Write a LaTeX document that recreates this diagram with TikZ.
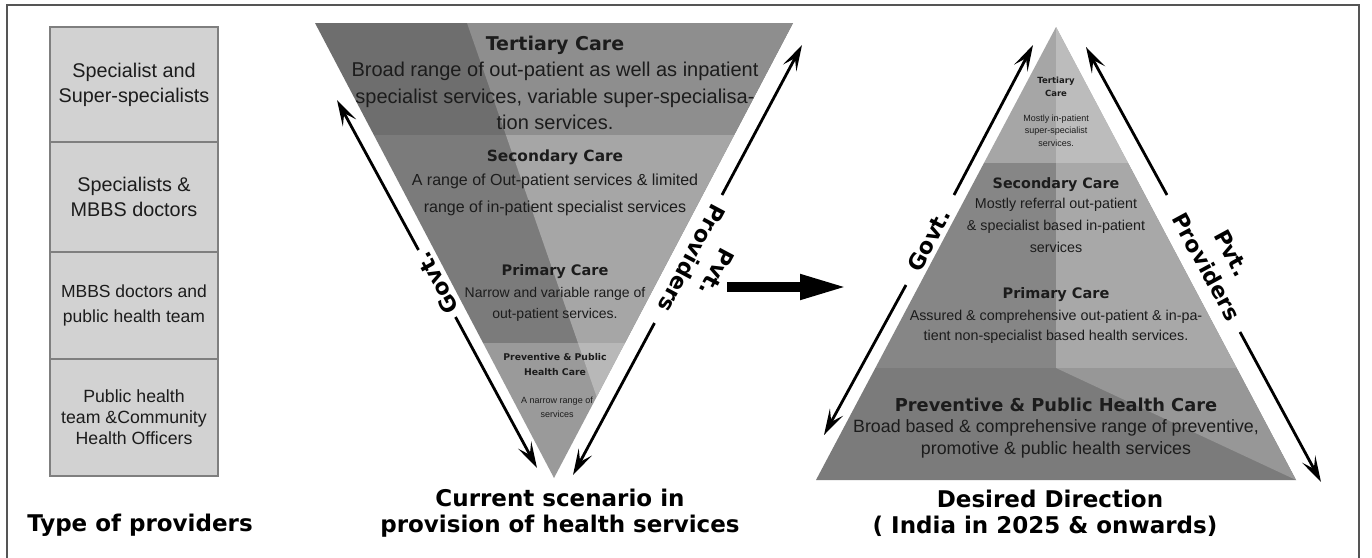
\documentclass[tikz,border=0pt]{standalone}
\usepackage{fontspec}
\setmainfont{Liberation Sans}
\newfontfamily\hdfont{DejaVu Sans}
\usetikzlibrary{arrows.meta}
\newcommand\myfs[2]{\fontsize{#1}{#2}\selectfont}
\definecolor{framec}{HTML}{555555}
\definecolor{boxfill}{HTML}{D2D2D2}
\definecolor{boxline}{HTML}{7F7F7F}
\definecolor{txt}{HTML}{1C1C1C}
\definecolor{iTL}{HTML}{6E6E6E}
\definecolor{iTR}{HTML}{8E8E8E}
\definecolor{iSL}{HTML}{7B7B7B}
\definecolor{iSR}{HTML}{A6A6A6}
\definecolor{iPL}{HTML}{9A9A9A}
\definecolor{iPR}{HTML}{B8B8B8}
\definecolor{pTL}{HTML}{A6A6A6}
\definecolor{pTR}{HTML}{BCBCBC}
\definecolor{pSL}{HTML}{868686}
\definecolor{pSR}{HTML}{A8A8A8}
\definecolor{pPD}{HTML}{7B7B7B}
\definecolor{pPL}{HTML}{979797}
\tikzset{
  lbl/.style={inner sep=0pt, text=txt, anchor=base},
  hd/.style={lbl, font=\hdfont\bfseries\myfs{#1}{#1}},
  bd/.style={lbl, font=\myfs{#1}{#1}},
  captext/.style={inner sep=0pt, anchor=base, text=black, font=\hdfont\bfseries\myfs{23}{26}},
  provbox/.style={draw=boxline, fill=boxfill, line width=1.2pt, minimum width=168pt, inner sep=0pt, align=center, text=txt},
  thinarr/.style={line width=2.8pt, -{Stealth[length=26pt,width=15pt,inset=11pt]}},
  sidelbl/.style={inner sep=0pt, align=center, text=black, font=\hdfont\bfseries\myfs{22}{29}},
}
\begin{document}
\begin{tikzpicture}[x=1pt,y=-1pt]
\useasboundingbox (0,0) rectangle (1372,557);
\fill[white] (0,0) rectangle (1372,557);
\draw[framec, line width=1.5pt] (7,562) -- (7,5) -- (1359,5) -- (1359,562);

% ---- Type of providers column
\node[provbox, minimum height=115pt, font=\myfs{19.8}{25}] (b1) at (134,84.5) {Specialist and\\Super-specialists};
\node[provbox, minimum height=110pt, font=\myfs{19.8}{25}] (b2) at (134,197) {Specialists \&\\MBBS doctors};
\node[provbox, minimum height=107pt, font=\myfs{17.5}{25}] (b3) at (134,305.5) {MBBS doctors and\\public health team};
\node[provbox, minimum height=117pt, font=\myfs{17.7}{21}] (b4) at (134,417.5) {Public health\\team \&Community\\Health Officers};
\node[captext] (tp) at (140,531.7) {Type of providers};

% ---- Current scenario (inverted triangle)
\begin{scope}
\clip (315,23) -- (793,23) -- (554,478) -- cycle;
\fill[iTL] (300,23) rectangle (800,135);
\fill[iTR] (467,23) -- (800,23) -- (800,135) -- (505.9,135) -- cycle;
\fill[iSL] (300,135) rectangle (800,343);
\fill[iSR] (505.9,135) -- (800,135) -- (800,343) -- (578,343) -- cycle;
\fill[iPL] (300,343) rectangle (800,480);
\fill[iPR] (578,343) -- (800,343) -- (800,480) -- (625.5,480) -- cycle;
\end{scope}
\node[hd=19] (it0) at (555,50) {Tertiary Care};
\node[bd=20] (it1) at (555,76) {Broad range of out-patient as well as inpatient};
\node[bd=20] (it2) at (555,103) {specialist services, variable super-specialisa-};
\node[bd=20] (it3) at (555,129.5) {tion services.};
\node[hd=15.4] (is0) at (555,161) {Secondary Care};
\node[bd=16] (is1) at (555,185) {A range of Out-patient services \& limited};
\node[bd=16] (is2) at (555,212) {range of in-patient specialist services};
\node[hd=14.5] (ip0) at (555,275) {Primary Care};
\node[bd=14] (ip1) at (555,297) {Narrow and variable range of};
\node[bd=14] (ip2) at (555,318) {out-patient services.};
\node[hd=9.3] (iv0) at (555,360) {Preventive \& Public};
\node[hd=9.3] (iv1) at (555,375) {Health Care};
\node[bd=9] (iv2) at (557,403) {A narrow range of};
\node[bd=9] (iv3) at (557,417) {services};

\coordinate (iga) at (337,100);
\coordinate (igb) at (418.5,250);
\coordinate (igc) at (455.5,317);
\coordinate (igd) at (537,468);
\draw[thinarr] (igb) -- (iga);
\draw[thinarr] (igc) -- (igd);
\node[sidelbl, rotate=118.5] (igt) at (437,283) {Govt.};

\coordinate (ipa) at (802,45);
\coordinate (ipb) at (722,195);
\coordinate (ipc) at (654.5,323);
\coordinate (ipd) at (573,475);
\draw[thinarr] (ipb) -- (ipa);
\draw[thinarr] (ipc) -- (ipd);
\node[sidelbl, rotate=-118] (ipt) at (704.5,265.5) {Pvt.\\Providers};

\node[captext] (c2a) at (560,506.7) {Current scenario in};
\node[captext] (c2b) at (560,532.7) {provision of health services};

% ---- middle arrow
\coordinate (ma) at (727,287);
\coordinate (mb) at (848,287);
\draw[line width=10pt, -{Triangle[length=48pt,width=23pt]}] (ma) -- (mb);

% ---- Desired direction (pyramid)
\begin{scope}
\clip (1056,27) -- (1296,480) -- (816,480) -- cycle;
\fill[pTL] (800,27) rectangle (1310,163);
\fill[pTR] (1056,27) rectangle (1310,163);
\fill[pSL] (800,163) rectangle (1310,368);
\fill[pSR] (1056,163) rectangle (1310,368);
\fill[pPD] (800,368) rectangle (1310,482);
\fill[pPL] (1056,368) -- (1310,368) -- (1310,486.5) -- cycle;
\end{scope}
\node[hd=8.5] (pt0) at (1056,83) {Tertiary};
\node[hd=8.5] (pt1) at (1056,96) {Care};
\node[bd=9] (pt2) at (1056,121) {Mostly in-patient};
\node[bd=9] (pt3) at (1056,133) {super-specialist};
\node[bd=9] (pt4) at (1056,146) {services.};
\node[hd=14.3] (ps0) at (1056,188) {Secondary Care};
\node[bd=14.3] (ps1) at (1056,208) {Mostly referral out-patient};
\node[bd=14.3] (ps2) at (1056,230) {\& specialist based in-patient};
\node[bd=14.3] (ps3) at (1056,252) {services};
\node[hd=14.5] (pp0) at (1056,298) {Primary Care};
\node[bd=14.3] (pp1) at (1056,320) {Assured \& comprehensive out-patient \& in-pa-};
\node[bd=14.3] (pp2) at (1056,340) {tient non-specialist based health services.};
\node[hd=17.8] (pv0) at (1056,411) {Preventive \& Public Health Care};
\node[bd=17.8] (pv1) at (1056,432.5) {Broad based \& comprehensive range of preventive,};
\node[bd=17.8] (pv2) at (1056,454) {promotive \& public health services};

\coordinate (pga) at (1033,45);
\coordinate (pgb) at (954,195);
\coordinate (pgc) at (906,285);
\coordinate (pgd) at (824,435);
\draw[thinarr] (pgb) -- (pga);
\draw[thinarr] (pgc) -- (pgd);
\node[sidelbl, rotate=62] (pgt) at (929,240) {Govt.};

\coordinate (ppa) at (1086,47);
\coordinate (ppb) at (1167,195);
\coordinate (ppc) at (1240,332);
\coordinate (ppd) at (1321,482);
\draw[thinarr] (ppb) -- (ppa);
\draw[thinarr] (ppc) -- (ppd);
\node[sidelbl, rotate=-61.5] (ppt) at (1219,260) {Pvt.\\Providers};

\node[captext] (c3a) at (1050,507) {Desired Direction};
\node[captext] (c3b) at (1045,533) {( India in 2025 \& onwards)};
\end{tikzpicture}
\end{document}
